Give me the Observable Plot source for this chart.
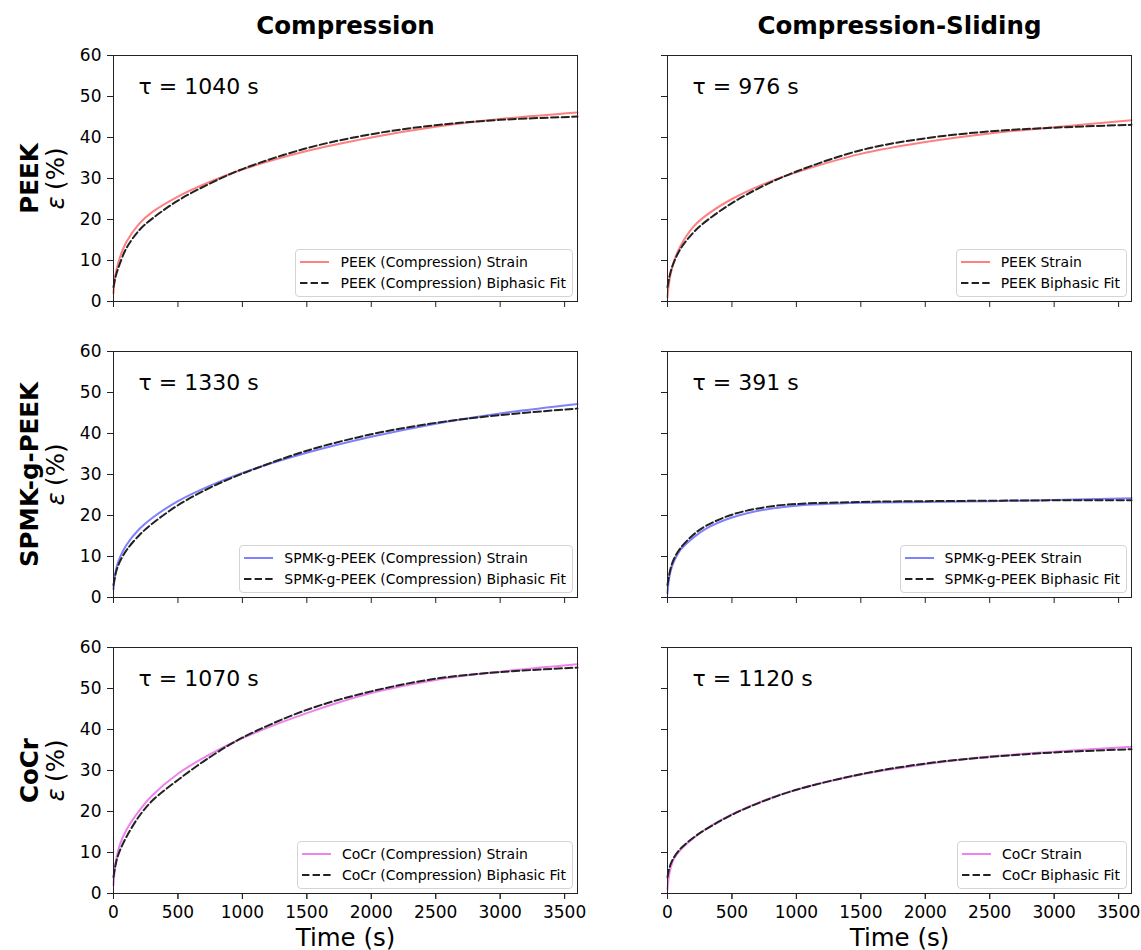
<!DOCTYPE html>
<html>
<head>
<meta charset="utf-8">
<script src="https://cdn.jsdelivr.net/npm/d3@7"></script>
<script src="https://cdn.jsdelivr.net/npm/@observablehq/plot@0.6"></script>
<style>
  body { margin: 0; background: #fff; font-family: "DejaVu Sans", sans-serif; }
  #wrap { position: relative; width: 1141px; height: 950px; background: #fff; }
  .legend { position: absolute; border: 1px solid #d4d4d4; border-radius: 4px; background: rgba(255,255,255,0.85);
            padding: 1px 6px 3px 4px; font-size: 14px; color: #000; }
  .legend .row { height: 21px; display: flex; align-items: center; white-space: nowrap; }
  .legend svg { margin-right: 11px; flex: none; }
</style>
</head>
<body>
<div id="wrap"></div>
<script>
// ---- data ----
const modes = ["Compression", "Compression-Sliding"];
const materials = ["PEEK", "SPMK-g-PEEK", "CoCr"];
const times = [0, 10, 25, 50, 100, 200, 300, 500, 750, 1000, 1500, 2000, 2500, 3000, 3600];
const xTicks = [0, 500, 1000, 1500, 2000, 2500, 3000, 3500];
const yTicks = [0, 10, 20, 30, 40, 50, 60];
const tauCompression = [1040, 1330, 1070];
const tauSliding = [976, 391, 1120];

const peekCompStrain  = [2, 5.5, 8, 10.8, 14.5, 19.0, 21.8, 25.6, 29.2, 32.2, 36.7, 40.0, 42.6, 44.5, 46.1];
const peekCompFit     = [3.5, 5.2, 7.0, 9.3, 13.0, 17.4, 20.2, 24.6, 28.8, 32.3, 37.4, 40.8, 43.0, 44.3, 45.1];
const peekSlideStrain = [1, 4.0, 6.8, 9.8, 13.5, 18.2, 21.0, 25.0, 28.7, 31.5, 36.0, 38.9, 41.0, 42.5, 44.2];
const peekSlideFit    = [3.5, 5.3, 7.3, 9.6, 12.8, 16.8, 19.6, 24.0, 28.3, 31.7, 36.9, 39.8, 41.5, 42.4, 43.1];
const spmkCompStrain  = [2, 5, 7.5, 9.8, 12.8, 16.7, 19.4, 23.5, 27.3, 30.4, 35.3, 39.2, 42.4, 44.9, 47.2];
const spmkCompFit     = [3, 4.8, 6.8, 8.8, 11.5, 15.2, 18.0, 22.5, 26.8, 30.2, 35.8, 39.8, 42.6, 44.5, 46.1];
const spmkSlideStrain = [1, 4.2, 6.5, 8.8, 11.6, 14.6, 16.8, 19.5, 21.4, 22.4, 23.1, 23.3, 23.5, 23.8, 24.2];
const spmkSlideFit    = [3, 5.0, 7.2, 9.4, 12.0, 15.3, 17.5, 20.2, 22.0, 22.8, 23.3, 23.5, 23.6, 23.7, 23.7];
const cocrCompStrain  = [2, 6, 9, 12, 15.5, 20.2, 23.9, 29.2, 34.0, 37.9, 44.0, 48.9, 52.1, 54.1, 55.9];
const cocrCompFit     = [4, 6, 8.2, 10.5, 13.8, 18.9, 22.6, 27.7, 33.3, 38.0, 44.8, 49.3, 52.4, 54.0, 55.1];
const cocrSlideStrain = [1, 4, 6.3, 8.5, 10.6, 13.5, 15.8, 19.3, 22.7, 25.3, 29.0, 31.5, 33.4, 34.6, 35.8];
const cocrSlideFit    = [4, 5.7, 7.2, 8.8, 10.9, 13.6, 15.7, 19.2, 22.6, 25.3, 29.1, 31.7, 33.3, 34.4, 35.2];

const strainColors = ["#ff8080", "#8080ff", "#ee82ee"];

// ---- build tables ----
const seriesTable = [
  ["PEEK", "Compression", peekCompStrain, peekCompFit],
  ["PEEK", "Compression-Sliding", peekSlideStrain, peekSlideFit],
  ["SPMK-g-PEEK", "Compression", spmkCompStrain, spmkCompFit],
  ["SPMK-g-PEEK", "Compression-Sliding", spmkSlideStrain, spmkSlideFit],
  ["CoCr", "Compression", cocrCompStrain, cocrCompFit],
  ["CoCr", "Compression-Sliding", cocrSlideStrain, cocrSlideFit]
];
const strainRows = [], fitRows = [];
for (const [material, mode, s, f] of seriesTable) {
  times.forEach((t, i) => {
    strainRows.push({material, mode, time: t, value: s[i]});
    fitRows.push({material, mode, time: t, value: f[i]});
  });
}
const tauRows = materials.flatMap((m, i) => [
  {fx: "Compression", fy: m, label: `τ = ${tauCompression[i]} s`},
  {fx: "Compression-Sliding", fy: m, label: `τ = ${tauSliding[i]} s`}
]);
const titleRows = modes.map(m => ({fx: m, fy: materials[0], label: m}));
const rowLabelRows = materials.map(m => ({fx: modes[0], fy: m, label: m}));
const xLabelRows = modes.map(m => ({fx: m, fy: materials[materials.length - 1], label: "Time (s)"}));

const chart = Plot.plot({
  width: 1141,
  height: 950,
  marginTop: 55,
  marginBottom: 57,
  marginLeft: 113,
  marginRight: 10,
  fx: {domain: modes, axis: null, paddingInner: 90 / 554, paddingOuter: 0, round: false},
  fy: {domain: materials, axis: null, paddingInner: 50 / 296, paddingOuter: 0, round: false},
  x: {domain: [0, 3600]},
  y: {domain: [0, 60]},
  color: {domain: materials, range: strainColors},
  style: {fontFamily: "'DejaVu Sans', sans-serif", fontSize: "17px", color: "#000", background: "#fff", overflow: "visible"},
  marks: [
    Plot.line(strainRows, {x: "time", y: "value", fx: "mode", fy: "material", stroke: "material", strokeWidth: 2, curve: "catmull-rom"}),
    Plot.line(fitRows, {x: "time", y: "value", fx: "mode", fy: "material", stroke: "#222", strokeWidth: 2, strokeDasharray: "7.4,3.2", curve: "catmull-rom"}),
    Plot.frame({stroke: "#222", strokeWidth: 1}),
    // ticks on every panel
    Plot.axisX(xTicks, {tickSize: 6, fill: "none", label: null, facetAnchor: null, stroke: "#222"}),
    Plot.axisY(yTicks, {tickSize: 6, fill: "none", label: null, facetAnchor: null, stroke: "#222"}),
    // tick labels on outer panels
    Plot.axisX(xTicks, {tickSize: 6, tickPadding: 6, label: null, tickFormat: d3.format("d"), fontSize: 17, stroke: "#222", fill: "#000"}),
    Plot.axisY(yTicks, {tickSize: 6, tickPadding: 6, label: null, tickFormat: d3.format("d"), fontSize: 17, stroke: "#222", fill: "#000"}),
    Plot.text(tauRows, {fx: "fx", fy: "fy", text: "label", frameAnchor: "top-left", textAnchor: "start", lineAnchor: "bottom", dx: 25, dy: 38, fontSize: 22, fill: "#000"}),
    Plot.text(titleRows, {fx: "fx", fy: "fy", text: "label", frameAnchor: "top", lineAnchor: "bottom", dy: -22, fontSize: 24.5, fontWeight: "bold", fill: "#000"}),
    Plot.text(rowLabelRows, {fx: "fx", fy: "fy", text: "label", frameAnchor: "left", rotate: -90, textAnchor: "middle", lineAnchor: "bottom", dx: -76, fontSize: 24.5, fontWeight: "bold", fill: "#000"}),
    Plot.text(rowLabelRows, {fx: "fx", fy: "fy", text: () => "ε", frameAnchor: "left", rotate: -90, textAnchor: "start", lineAnchor: "bottom", dx: -50, dy: 31, fontSize: 24.5, fontStyle: "italic", fill: "#000"}),
    Plot.text(rowLabelRows, {fx: "fx", fy: "fy", text: () => "(%)", frameAnchor: "left", rotate: -90, textAnchor: "end", lineAnchor: "bottom", dx: -50, dy: -31, fontSize: 24.5, fill: "#000"}),
    Plot.text(xLabelRows, {fx: "fx", fy: "fy", text: "label", frameAnchor: "bottom", lineAnchor: "bottom", dy: 52, fontSize: 24.5, fill: "#000"})
  ]
});

const wrap = document.getElementById("wrap");
wrap.appendChild(chart);

// ---- legends (HTML overlay, anchored lower-right inside each panel) ----
const frameRight = [577, 1131];
const frameBottom = [301, 597, 893];
materials.forEach((m, i) => {
  modes.forEach((mode, j) => {
    const prefix = j === 0 ? `${m} (${mode})` : m;
    const div = document.createElement("div");
    div.className = "legend";
    div.style.right = (1141 - (frameRight[j] - 4)) + "px";
    div.style.bottom = (950 - (frameBottom[i] - 4)) + "px";
    div.innerHTML =
      `<div class="row"><svg width="29" height="6"><line x1="0" y1="3" x2="29" y2="3" stroke="${strainColors[i]}" stroke-width="2"/></svg><span>${prefix} Strain</span></div>` +
      `<div class="row"><svg width="29" height="6"><line x1="0" y1="3" x2="29" y2="3" stroke="#222" stroke-width="2" stroke-dasharray="7.4,3.2"/></svg><span>${prefix} Biphasic Fit</span></div>`;
    wrap.appendChild(div);
  });
});
</script>
</body>
</html>
